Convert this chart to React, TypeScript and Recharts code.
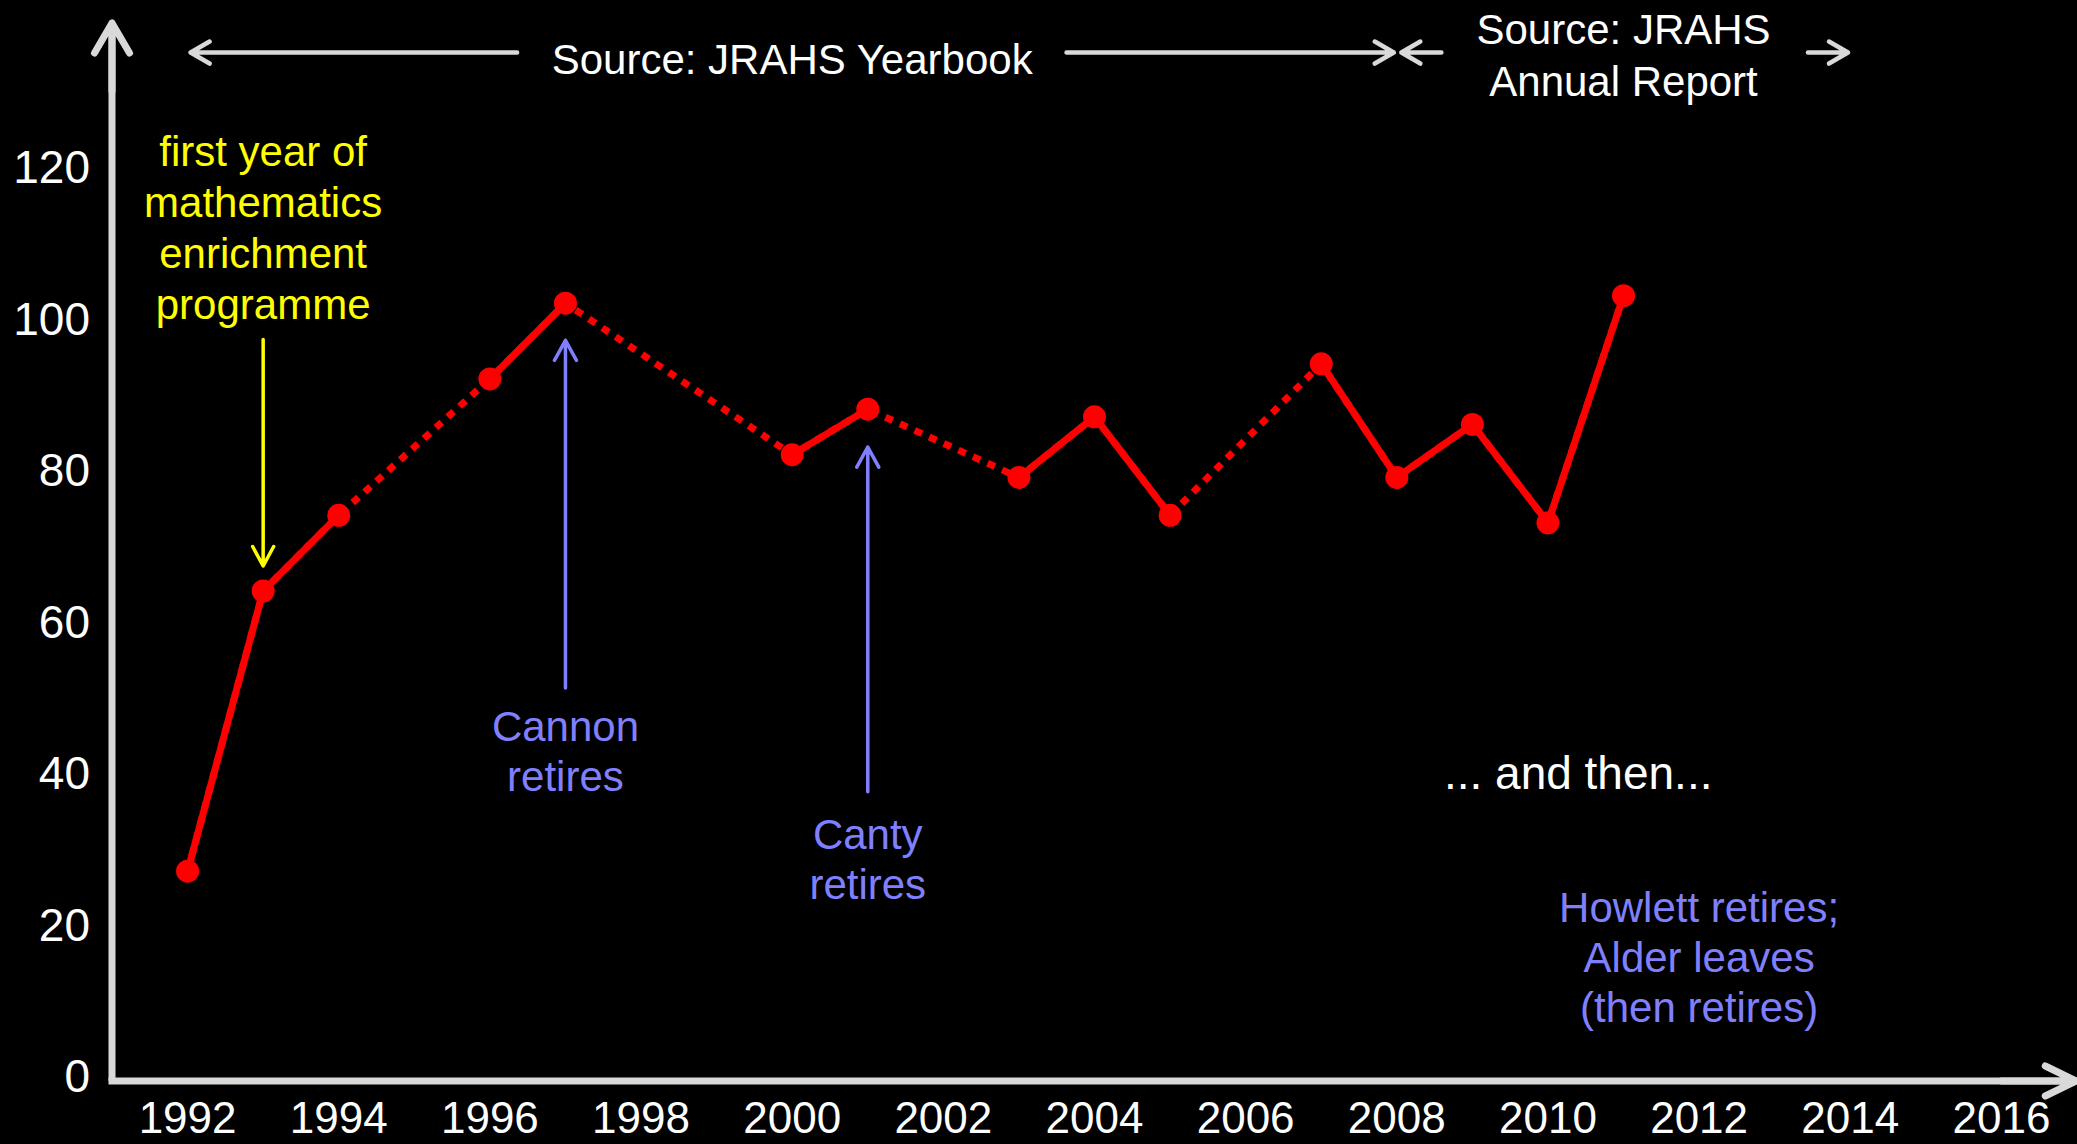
import { LineChart, Line, XAxis, YAxis, ReferenceLine, ReferenceDot } from "recharts";

const FONT = "'Liberation Sans', Arial, sans-serif";
const RED = "#ff0000";
const GREY = "#d9d9d9";
const BLUE = "#8080ff";
const YELLOW = "#ffff00";

// years with no reported figure are null; the dotted line bridges them
const years = [1992, 1993, 1994, 1995, 1996, 1997, 1998, 1999, 2000, 2001, 2002, 2003, 2004, 2005, 2006, 2007, 2008, 2009, 2010, 2011];
const counts = [27, 64, 74, null, 92, 102, null, null, 82, 88, null, 79, 87, 74, null, 94, 79, 86, 73, 103];

const xTicks = [1992, 1994, 1996, 1998, 2000, 2002, 2004, 2006, 2008, 2010, 2012, 2014, 2016];
const yTicks = [0, 20, 40, 60, 80, 100, 120];

const yearbookLabel = ["Source: JRAHS Yearbook"];
const annualLabel = ["Source: JRAHS", "Annual Report"];
const enrichmentLabel = ["first year of", "mathematics", "enrichment", "programme"];
const cannonLabel = ["Cannon", "retires"];
const cantyLabel = ["Canty", "retires"];
const andThenLabel = ["... and then..."];
const howlettLabel = ["Howlett retires;", "Alder leaves", "(then retires)"];

const data = years.map((year, i) => ({ year, count: counts[i] }));

// text blocks: anchor is (year, value) of the first line's baseline
const notes = [
  { id: "yearbook", x: 2000.0, y: 132.3, lines: yearbookLabel, color: "#ffffff", size: 42, lh: 51 },
  { id: "annual", x: 2011.0, y: 136.2, lines: annualLabel, color: "#ffffff", size: 42, lh: 52 },
  { id: "enrich", x: 1993.0, y: 120.1, lines: enrichmentLabel, color: YELLOW, size: 42, lh: 51 },
  { id: "cannon", x: 1997.0, y: 44.2, lines: cannonLabel, color: BLUE, size: 42, lh: 50 },
  { id: "canty", x: 2001.0, y: 29.9, lines: cantyLabel, color: BLUE, size: 42, lh: 50 },
  { id: "then", x: 2010.4, y: 37.8, lines: andThenLabel, color: "#ffffff", size: 46, lh: 50 },
  { id: "howlett", x: 2012.0, y: 20.3, lines: howlettLabel, color: BLUE, size: 42, lh: 50 },
];

// arrows: from tail to tip, in data units
const arrows = [
  { id: "yb-l", from: [1996.36, 135.1], to: [1992.04, 135.1], color: GREY, w: 4.5, along: 19, across: 11 },
  { id: "yb-r", from: [2003.63, 135.1], to: [2007.96, 135.1], color: GREY, w: 4.5, along: 19, across: 11 },
  { id: "ar-l", from: [2008.59, 135.1], to: [2008.06, 135.1], color: GREY, w: 4.5, along: 19, across: 11 },
  { id: "ar-r", from: [2013.44, 135.1], to: [2013.97, 135.1], color: GREY, w: 4.5, along: 19, across: 11 },
  { id: "enrich", from: [1993, 97.2], to: [1993, 67.3], color: YELLOW, w: 3.5, along: 19.5, across: 10.5 },
  { id: "cannon", from: [1997, 51.2], to: [1997, 97.1], color: BLUE, w: 3.5, along: 20, across: 11 },
  { id: "canty", from: [2001, 37.5], to: [2001, 83.0], color: BLUE, w: 3.5, along: 20, across: 11 },
  { id: "y-axis", from: [1991, 130], to: [1991, 139], color: GREY, w: 7, along: 30, across: 17.5 },
  { id: "x-axis", from: [2016, -0.7], to: [2016.99, -0.7], color: GREY, w: 7, along: 31, across: 15 },
];

function arrowShape(a: (typeof arrows)[number]) {
  return (p: any) => {
    const x1 = Number(p.x1), y1 = Number(p.y1), x2 = Number(p.x2), y2 = Number(p.y2);
    const len = Math.hypot(x2 - x1, y2 - y1) || 1;
    const ux = (x2 - x1) / len, uy = (y2 - y1) / len;
    const bx = x2 - ux * a.along, by = y2 - uy * a.along;
    const d = `M${x1},${y1}L${x2},${y2}M${bx - uy * a.across},${by + ux * a.across}L${x2},${y2}L${bx + uy * a.across},${by - ux * a.across}`;
    return <path d={d} stroke={a.color} strokeWidth={a.w} fill="none" strokeLinecap="round" strokeLinejoin="round" />;
  };
}

function textShape(n: (typeof notes)[number]) {
  return (p: any) => (
    <text x={p.cx} y={p.cy} fill={n.color} fontSize={n.size} fontFamily={FONT} textAnchor="middle">
      {n.lines.map((line, i) => (
        <tspan key={i} x={p.cx} dy={i === 0 ? 0 : n.lh}>
          {line}
        </tspan>
      ))}
    </text>
  );
}

export default function App() {
  return (
    <div style={{ position: "absolute", left: 0, top: 0, width: 2077, height: 1144, background: "#000" }}>
      <LineChart width={2077} height={1144} data={data} margin={{ top: 23, right: 0, bottom: 0, left: 0 }}>
        <XAxis
          type="number"
          dataKey="year"
          domain={[1991, 2017]}
          ticks={xTicks}
          interval={0}
          allowDataOverflow
          height={63}
          tickLine={false}
          tickSize={0}
          tickMargin={21}
          axisLine={{ stroke: GREY, strokeWidth: 7, strokeLinecap: "square" }}
          tick={{ fill: "#ffffff", fontSize: 44, fontFamily: FONT }}
        />
        <YAxis
          type="number"
          domain={[-0.7, 139]}
          ticks={yTicks}
          interval={0}
          allowDataOverflow
          width={112}
          tickLine={false}
          tickSize={0}
          tickMargin={22}
          axisLine={{ stroke: GREY, strokeWidth: 7 }}
          tick={{ fill: "#ffffff", fontSize: 46, fontFamily: FONT }}
        />
        <Line
          dataKey="count"
          type="linear"
          stroke={RED}
          strokeWidth={7}
          strokeDasharray="8 8"
          connectNulls
          dot={false}
          activeDot={false}
          isAnimationActive={false}
        />
        <Line
          dataKey="count"
          type="linear"
          stroke={RED}
          strokeWidth={7}
          connectNulls={false}
          dot={{ r: 10, fill: RED, stroke: RED, strokeWidth: 3 }}
          activeDot={false}
          isAnimationActive={false}
        />
        {arrows.map((a) => (
          <ReferenceLine
            key={a.id}
            segment={[{ x: a.from[0], y: a.from[1] }, { x: a.to[0], y: a.to[1] }]}
            ifOverflow="visible"
            shape={arrowShape(a)}
          />
        ))}
        {notes.map((n) => (
          <ReferenceDot key={n.id} x={n.x} y={n.y} r={1} ifOverflow="visible" shape={textShape(n)} />
        ))}
      </LineChart>
    </div>
  );
}
